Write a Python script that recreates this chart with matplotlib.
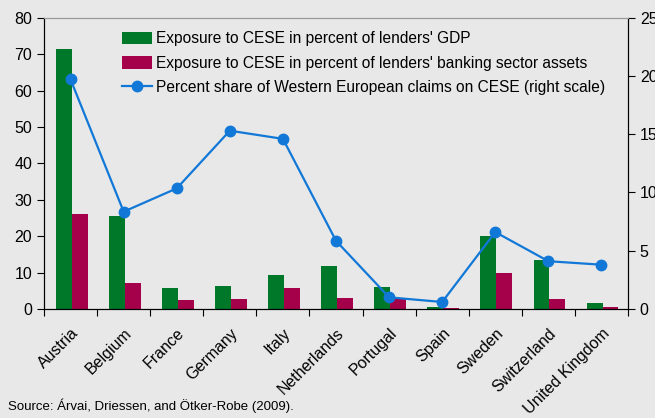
import matplotlib
matplotlib.use("Agg")
import matplotlib.pyplot as plt
import numpy as np

plt.rcParams['font.family'] = ['Liberation Sans', 'DejaVu Sans']

countries = ["Austria", "Belgium", "France", "Germany", "Italy", "Netherlands",
             "Portugal", "Spain", "Sweden", "Switzerland", "United Kingdom"]
gdp = [71.3, 25.5, 5.9, 6.4, 9.4, 11.7, 6.0, 0.55, 20.1, 13.4, 1.65]
assets = [26.0, 7.05, 2.5, 2.7, 5.7, 3.1, 2.7, 0.3, 9.8, 2.8, 0.45]
share = [19.7, 8.35, 10.35, 15.3, 14.6, 5.85, 1.0, 0.6, 6.6, 4.1, 3.8]

labels = ["Exposure to CESE in percent of lenders' GDP",
          "Exposure to CESE in percent of lenders' banking sector assets",
          "Percent share of Western European claims on CESE (right scale)"]
source = "Source: Árvai, Driessen, and Ötker-Robe (2009)."

bg = "#e8e8e8"
green = "#00782a"
red = "#a5004a"
blue = "#1278d8"

fig = plt.figure(figsize=(6.55, 4.18), dpi=100, facecolor=bg)
ax = fig.add_axes([0.0672, 0.2608, 0.8916, 0.6969])
ax.set_facecolor(bg)
x = np.arange(len(countries))
w = 0.3
b1 = ax.bar(x - w / 2 + 0.02, gdp, w, color=green, label=labels[0], zorder=2)
b2 = ax.bar(x + w / 2 + 0.02, assets, w, color=red, label=labels[1], zorder=2)
ax.set_ylim(0, 80)
ax.set_xlim(-0.5, len(countries) - 0.5)
ax.set_yticks(range(0, 81, 10))
ax.set_xticks(np.arange(-0.5, len(countries), 1.0))
ax.set_xticklabels([])
ax.set_xticks(x, minor=True)
ax.set_xticklabels(countries, minor=True, rotation=45, ha='right',
                   rotation_mode='anchor', fontsize=11.5)
ax.tick_params(axis='x', which='minor', length=0, pad=12)
ax.tick_params(axis='x', which='major', length=5, direction='out', color='black')
ax.tick_params(axis='y', labelsize=11.5, length=5, direction='out')

ax2 = ax.twinx()
ln, = ax2.plot(x, share, color=blue, marker='o', markersize=7.5, linewidth=1.6,
               label=labels[2], zorder=3)
ax2.set_ylim(0, 25)
ax2.set_yticks(range(0, 26, 5))
ax2.tick_params(axis='y', labelsize=11.5, length=5, direction='out')

for a in (ax, ax2):
    a.spines['top'].set_color('#999999')
    a.spines['left'].set_color('black')
    a.spines['right'].set_color('black')
    a.spines['bottom'].set_color('black')

leg = ax.legend([b1, b2, ln], labels, loc='upper left', bbox_to_anchor=(0.118, 0.985),
                frameon=False, fontsize=11.2, handlelength=1.9, handleheight=0.9,
                handletextpad=0.3, labelspacing=0.6, borderaxespad=0.2)

fig.text(0.012, 0.012, source, fontsize=9.5, ha='left', va='bottom')

fig.savefig("out.png", dpi=100, facecolor=bg)
